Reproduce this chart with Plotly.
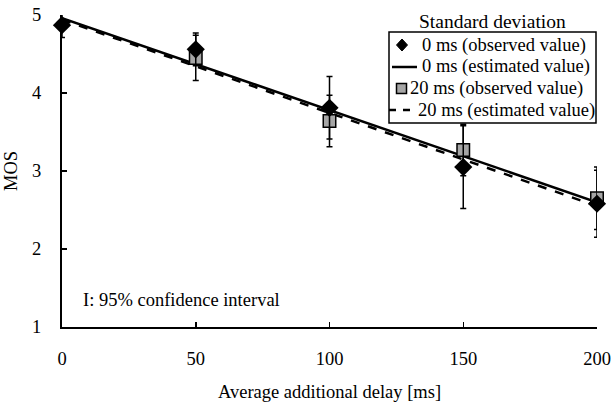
import plotly.graph_objects as go

delay = [0, 50, 100, 150, 200]
obs_0ms = [4.87, 4.56, 3.81, 3.05, 2.58]
ci_0ms = [0.16, 0.21, 0.40, 0.53, 0.43]
obs_20ms = [None, 4.45, 3.64, 3.27, 2.65]
ci_20ms = [0, 0.29, 0.33, 0.33, 0.40]
est_x = [0, 200]
est_0ms = [4.96, 2.60]
est_20ms = [4.94, 2.55]

legend_title = "Standard deviation"
legend_labels = ["0 ms (observed value)", "0 ms (estimated value)",
                 "20 ms (observed value)", "20 ms (estimated value)"]

FONT = "Liberation Serif"
FS = 18.5

W, H = 614, 404
ML, MR, MT, MB = 62, 17, 15, 77
PW, PH = W - ML - MR, H - MT - MB


def px(xr, yr):
    """reference-picture pixel -> paper coords"""
    return (xr - ML) / PW, (MT + PH - yr) / PH


fig = go.Figure()
fig.add_trace(go.Scatter(
    x=est_x, y=est_0ms, mode="lines", name=legend_labels[1],
    line=dict(color="black", width=2.5)))
fig.add_trace(go.Scatter(
    x=est_x, y=est_20ms, mode="lines", name=legend_labels[3],
    line=dict(color="black", width=2.5, dash="dash")))
fig.add_trace(go.Scatter(
    x=delay, y=obs_20ms, mode="markers", name=legend_labels[2],
    marker=dict(symbol="square", size=12.5, color="#a6a6a6", line=dict(color="black", width=1.5)),
    error_y=dict(type="data", array=ci_20ms, color="black", thickness=1.5, width=3),
    cliponaxis=False))
fig.add_trace(go.Scatter(
    x=delay, y=obs_0ms, mode="markers", name=legend_labels[0],
    marker=dict(symbol="diamond", size=14, color="black"),
    error_y=dict(type="data", array=ci_0ms, color="black", thickness=1.5, width=3),
    cliponaxis=False))

shapes = []
annotations = []

# legend box
x0, y0 = px(389, 32)
x1, y1 = px(596, 123)
shapes.append(dict(type="rect", xref="paper", yref="paper", x0=x0, y0=y1, x1=x1, y1=y0,
                   line=dict(color="black", width=1.5), fillcolor="white", layer="above"))
tx, ty = px(492, 21)
annotations.append(dict(text=legend_title, xref="paper", yref="paper", x=tx, y=ty,
                        xanchor="center", yanchor="middle", showarrow=False,
                        font=dict(size=19.5)))

rows_y = [45, 67, 88.5, 110]
text_x = [420, 420, 408, 416]

# row 1: diamond
cx, cy = 402, rows_y[0]
pts = [px(cx, cy - 6), px(cx + 5.5, cy), px(cx, cy + 6), px(cx - 5.5, cy)]
path = "M " + " L ".join(f"{a},{b}" for a, b in pts) + " Z"
shapes.append(dict(type="path", xref="paper", yref="paper", path=path,
                   fillcolor="black", line=dict(color="black", width=1), layer="above"))
# row 2: solid line
a0, b0 = px(392, rows_y[1])
a1, _ = px(417, rows_y[1])
shapes.append(dict(type="line", xref="paper", yref="paper", x0=a0, y0=b0, x1=a1, y1=b0,
                   line=dict(color="black", width=2.5), layer="above"))
# row 3: square
s0x, s0y = px(396.5, rows_y[2] - 5)
s1x, s1y = px(406.5, rows_y[2] + 5)
shapes.append(dict(type="rect", xref="paper", yref="paper", x0=s0x, y0=s1y, x1=s1x, y1=s0y,
                   fillcolor="#a6a6a6", line=dict(color="black", width=1.5), layer="above"))
# row 4: dashes
for d0, d1 in [(389, 396), (403, 410)]:
    a0, b0 = px(d0, rows_y[3])
    a1, _ = px(d1, rows_y[3])
    shapes.append(dict(type="line", xref="paper", yref="paper", x0=a0, y0=b0, x1=a1, y1=b0,
                       line=dict(color="black", width=2.5), layer="above"))

for lbl, lx, ly in zip(legend_labels, text_x, rows_y):
    ax_, ay_ = px(lx, ly)
    annotations.append(dict(text=lbl, xref="paper", yref="paper", x=ax_, y=ay_,
                            xanchor="left", yanchor="middle", showarrow=False,
                            font=dict(size=FS)))

ix, iy = px(81, 300)
annotations.append(dict(text="I: 95% confidence interval", xref="paper", yref="paper",
                        x=ix, y=iy, xanchor="left", yanchor="middle", showarrow=False,
                        font=dict(size=FS)))

fig.update_layout(
    width=W, height=H,
    margin=dict(l=ML, r=MR, t=MT, b=MB, autoexpand=False),
    paper_bgcolor="white", plot_bgcolor="white",
    font=dict(family=FONT, size=FS, color="black"),
    showlegend=False,
    hovermode=False,
    xaxis=dict(range=[0, 200], tickvals=delay, showgrid=False, zeroline=False,
               showline=True, linecolor="black", linewidth=2, ticks="inside", ticklen=5,
               tickwidth=1.5, tickcolor="black", automargin=False, ticklabelstandoff=14,
               ticklabeloverflow="allow",
               title=dict(text="Average additional delay [ms]", font=dict(size=FS), standoff=17)),
    yaxis=dict(range=[1, 5], tickvals=[1, 2, 3, 4, 5], showgrid=False, zeroline=False,
               showline=True, linecolor="black", linewidth=2, ticks="inside", ticklen=5,
               tickwidth=1.5, tickcolor="black", automargin=False, ticklabelstandoff=15,
               ticklabeloverflow="allow",
               title=dict(text="MOS", font=dict(size=FS), standoff=10)),
    shapes=shapes,
    annotations=annotations,
)

fig.write_html("out.html", config={"displayModeBar": False, "staticPlot": True},
               post_script="document.body.style.margin='0';document.body.style.overflow='hidden';")
